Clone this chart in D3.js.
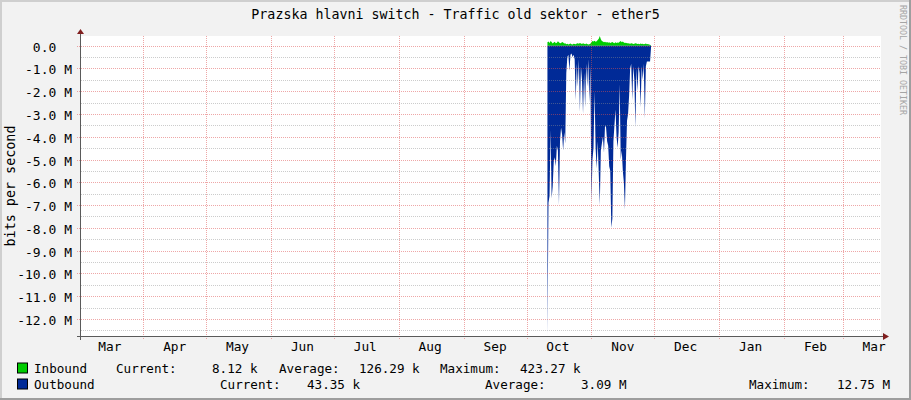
<!DOCTYPE html>
<html><head><meta charset="utf-8">
<script src="https://cdn.jsdelivr.net/npm/d3@7"></script>
<style>
html,body{margin:0;padding:0;background:#f2f2f2;}
svg{display:block;}
text{font-family:"DejaVu Sans Mono",monospace;fill:#000;}
</style></head><body>
<svg id="c" width="911" height="400"></svg>
<script>
// ---------- data ----------
const chartTitle = "Prazska hlavni switch - Traffic old sektor - ether5";
const yAxisTitle = "bits per second";
const watermark = "RRDTOOL / TOBI OETIKER";
const seriesNames = ["Inbound", "Outbound"];
const seriesColors = ["#00CC00", "#002A97"];
const yTickValues = [0, -1, -2, -3, -4, -5, -6, -7, -8, -9, -10, -11, -12];
const yTickLabels = ["0.0", "-1.0 M", "-2.0 M", "-3.0 M", "-4.0 M", "-5.0 M", "-6.0 M",
  "-7.0 M", "-8.0 M", "-9.0 M", "-10.0 M", "-11.0 M", "-12.0 M"];
const xTickLabels = ["Mar", "Apr", "May", "Jun", "Jul", "Aug", "Sep", "Oct", "Nov", "Dec", "Jan", "Feb", "Mar"];
const timeStart = "2022-03-02T06:00:00Z";
const timeEnd = "2023-03-19T07:00:00Z";
const dataStart = "2022-10-11T00:00:00Z";
const stepHours = 12;
const yMin = -12.75, yMax = 0.42327; // M
// inbound, k bits/s (positive)
const inboundK = [
  150, 180, 120, 200, 160, 90, 140, 170, 110, 130,
  190, 150, 100, 120, 160, 140, 90, 110, 60, 80,
  50, 70, 90, 60, 50, 80, 70, 60, 90, 100,
  80, 120, 90, 70, 100, 80, 60, 90, 70, 50,
  60, 80, 150, 200, 180, 220, 170, 190, 250, 300,
  423.27, 280, 200, 180, 150, 170, 140, 160, 130, 150,
  120, 140, 160, 130, 110, 150, 120, 140, 130, 170,
  200, 150, 180, 140, 120, 130, 110, 100, 90, 80,
  100, 90, 70, 80, 110, 90, 70, 80, 60, 90,
  70, 80, 60, 70, 90, 60, 70, 50, 40, 8.12
];
// outbound, M bits/s (drawn below zero)
const outboundM = [
  12.75, 6.9, 6.6, 3.7, 6.7, 6.2, 5.1, 4.9, 5.3, 4.4,
  4.6, 7.0, 4.2, 3.6, 3.9, 4.6, 3.8, 4.3, 1.2, 0.5,
  0.4, 1.1, 0.4, 0.35, 0.5, 0.4, 0.6, 2.4, 0.8, 1.8,
  0.6, 2.9, 0.9, 1.5, 3.0, 1.2, 2.7, 0.8, 1.8, 0.6,
  2.5, 0.9, 6.9, 5.0, 4.5, 2.0, 4.5, 5.4, 4.2, 5.6,
  7.0, 4.6, 4.3, 4.0, 4.7, 3.5, 3.6, 4.2, 4.4, 5.3,
  5.5, 8.0, 7.6, 4.2, 3.5, 2.8, 4.0, 4.5, 3.8, 1.7,
  5.0, 4.6, 5.5, 6.0, 7.2, 5.0, 3.3, 3.0, 2.2, 1.0,
  0.8, 2.4, 0.9, 1.5, 3.6, 1.0, 2.0, 0.9, 1.2, 2.7,
  0.9, 1.5, 0.8, 3.2, 0.9, 0.7, 0.7, 0.7, 0.7, 0.04
];
const statLabels = ["Current:", "Average:", "Maximum:"];
const inboundStats = ["8.12 k", "126.29 k", "423.27 k"];
const outboundStats = ["43.35 k", "3.09 M", "12.75 M"];

// ---------- layout ----------
const W = 911, H = 400;
const L = 81, R = 881, T = 36, B = 336;
const svg = d3.select("#c");

const x = d3.scaleUtc().domain([new Date(timeStart), new Date(timeEnd)]).range([L, R]);
const y = d3.scaleLinear().domain([yMin, yMax]).range([B, T]);

// background + 3d border
svg.append("rect").attr("width", W).attr("height", H).attr("fill", "#f2f2f2");
svg.append("path").attr("d", `M0,0H${W}V2H2V${H}H0Z`).attr("fill", "#cfcfcf");
svg.append("path").attr("d", `M${W},${H}H0V${H-2}H${W-2}V0H${W}Z`).attr("fill", "#9e9e9e");

// canvas
svg.append("rect").attr("x", L - 1).attr("y", T).attr("width", R - L + 1).attr("height", B - T).attr("fill", "#fff");

// data
const t0 = new Date(dataStart).getTime();
const pts = outboundM.map((v, i) => ({
  t: new Date(t0 + i * stepHours * 3600e3),
  out: v,
  inn: inboundK[i] / 1000
}));

const areaIn = d3.area().x(d => x(d.t)).y0(y(0)).y1(d => y(d.inn));
const areaOut = d3.area().x(d => x(d.t)).y0(y(0)).y1(d => y(-d.out));
svg.append("path").datum(pts).attr("d", areaIn).attr("fill", seriesColors[0]);
svg.append("path").datum(pts).attr("d", areaOut).attr("fill", seriesColors[1]);

// grid (drawn over data, translucent like rrdtool)
const g = svg.append("g");
const crisp = v => Math.round(v) + 0.5;
const minorVals = d3.range(-12.5, 0.01, 0.5).filter(v => Math.abs(v % 1) > 0.01);
g.selectAll(".minor").data(minorVals).enter().append("line")
  .attr("x1", L).attr("x2", R)
  .attr("y1", d => crisp(y(d))).attr("y2", d => crisp(y(d)))
  .attr("stroke", "rgba(143,143,143,0.45)").attr("stroke-dasharray", "1,1");
g.selectAll(".major").data(yTickValues).enter().append("line")
  .attr("x1", L - 4).attr("x2", R)
  .attr("y1", d => crisp(y(d))).attr("y2", d => crisp(y(d)))
  .attr("stroke", "rgba(222,79,79,0.5)").attr("stroke-dasharray", "1,1");
const monthStarts = d3.utcMonth.range(d3.utcMonth.ceil(x.domain()[0]), x.domain()[1]);
g.selectAll(".vmaj").data(monthStarts).enter().append("line")
  .attr("x1", d => crisp(x(d))).attr("x2", d => crisp(x(d)))
  .attr("y1", T).attr("y2", B + 4)
  .attr("stroke", "rgba(222,79,79,0.5)").attr("stroke-dasharray", "1,1");

// axes
const ax = "#5a5a5a", arrow = "#801f1f";
const yb = crisp(B - 0.5);
svg.append("line").attr("x1", L - 4).attr("x2", R + 3).attr("y1", yb).attr("y2", yb).attr("stroke", ax);
svg.append("line").attr("x1", L - 0.5).attr("x2", L - 0.5).attr("y1", B + 4).attr("y2", T - 3).attr("stroke", ax);
svg.append("path").attr("d", `M${L-0.5},${T-7}L${L+3},${T-2}L${L-4},${T-2}Z`).attr("fill", arrow);
svg.append("path").attr("d", `M${R+8},${yb}L${R+2},${yb-3.5}L${R+2},${yb+3.5}Z`).attr("fill", arrow);

// y labels
svg.selectAll(".yl").data(yTickValues).enter().append("text")
  .attr("x", 72).attr("y", d => crisp(y(d)) + 5)
  .attr("text-anchor", "end").style("font-size", "13px").style("white-space", "pre")
  .text((d, i) => yTickLabels[i].includes("M") ? yTickLabels[i] : yTickLabels[i] + "\u00a0\u00a0");

// x labels (rrdtool: centered at month start + 15 days)
const labelMonths = d3.utcMonth.range(d3.utcMonth.floor(x.domain()[0]), x.domain()[1]);
svg.selectAll(".xl").data(labelMonths.slice(0, xTickLabels.length)).enter().append("text")
  .attr("x", d => x(new Date(d.getTime() + 15 * 86400e3)))
  .attr("y", 350.5).attr("text-anchor", "middle").style("font-size", "12.8px")
  .text((d, i) => xTickLabels[i]);

// title
svg.append("text").attr("x", W / 2).attr("y", 19).attr("text-anchor", "middle")
  .style("font-size", "13.3px").text(chartTitle);

// y axis title
svg.append("text").attr("transform", `translate(14.5,${(T + B) / 2}) rotate(-90)`)
  .attr("text-anchor", "middle").style("font-size", "13.4px").text(yAxisTitle);

// watermark
svg.append("text").attr("transform", `translate(899.5,5) rotate(90)`)
  .attr("text-anchor", "start").style("font-size", "8.3px").style("fill", "#a5a5a5").text(watermark);

// legend
const rows = [
  {name: seriesNames[0], color: seriesColors[0], stats: inboundStats, base: 372.5,
   pos: [116, 212, 279, 359, 440, 520]},
  {name: seriesNames[1], color: seriesColors[1], stats: outboundStats, base: 388.5,
   pos: [220, 307, 485, 581, 749, 837]}
];
rows.forEach(r => {
  svg.append("rect").attr("x", 17.5).attr("y", r.base - 9.5).attr("width", 10).attr("height", 10)
    .attr("fill", r.color).attr("stroke", "#000").attr("stroke-width", 1);
  const lg = svg.append("g").style("font-size", "12.6px");
  lg.append("text").attr("x", 34).attr("y", r.base).text(r.name);
  statLabels.forEach((s, k) => {
    lg.append("text").attr("x", r.pos[2 * k]).attr("y", r.base).text(s);
    lg.append("text").attr("x", r.pos[2 * k + 1]).attr("y", r.base).text(r.stats[k]);
  });
});
</script>
</body></html>
